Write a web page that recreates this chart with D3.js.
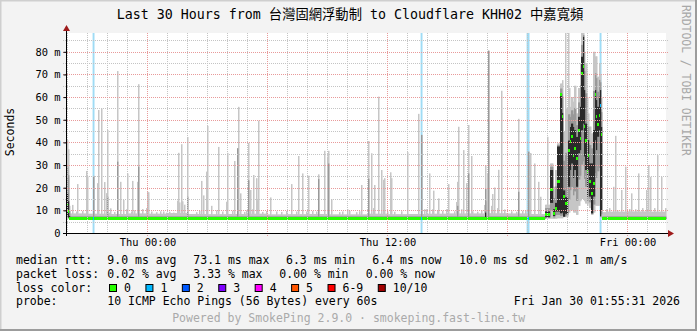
<!DOCTYPE html>
<html>
<head>
<meta charset="utf-8">
<title>SmokePing - Last 30 Hours</title>
<script src="https://cdn.jsdelivr.net/npm/d3@7"></script>
<style>
  body { margin: 0; background: #fff; }
  svg text { font-family: "DejaVu Sans Mono", "Noto Sans CJK TC", monospace; }
</style>
</head>
<body>
<svg width="697" height="331"></svg>
<script>
// ---------------- data ----------------
var titleText = "Last 30 Hours from 台灣固網浮動制 to Cloudflare KHH02 中嘉寬頻";
var rangeStart = new Date(2026, 0, 28, 19, 55, 31);
var rangeEnd = new Date(2026, 0, 30, 1, 55, 31);
var thu0 = new Date(2026, 0, 29, 0, 0, 0);   // times below are hours after Thu 00:00
var stepMinutes = 3;

// per hour baseline (hours -5 .. 25 after Thu 00:00)
var baseHours  = [-5,-4,-3,-2,-1,0,1,2,3,4,5,6,7,8,9,10,11,12,13,14,15,16,17,18,19,20,21,22,23,24,25];
var baseMedian = [6.6,6.5,6.5,6.5,6.5,6.5,6.4,6.4,6.4,6.4,6.4,6.4,6.4,6.4,6.4,6.4,6.4,6.5,6.5,6.4,6.4,6.4,6.4,6.4,6.3,6.3,6.5,6.5,6.5,6.5,6.5];
var baseTop    = [8.5,8.6,8.5,8.4,8.6,8.5,8.8,8.4,8.3,8.4,8.5,8.2,8.3,8.4,8.2,8.2,8.5,8.3,8.4,8.5,8.6,8.6,8.7,8.6,8.4,9.0,9.0,9.2,9.4,9.5,9.4];
var pingFloor = 6.0;

// detailed periods: [from h, to h, min, q1, median, q3, max] (ms)
var detailRows = [
  [-4.08, -4.03, 6.3, 7.0, 11.0, 16.0, 24.0],
  [-4.03, -3.98, 6.3, 8.0, 12.4, 17.5, 41.0],
  [-3.98, -3.93, 6.2, 6.8, 9.5, 14.0, 37.0],
  [-3.93, -3.88, 6.2, 6.4, 6.6, 7.5, 12.0],
  [16.86, 16.93, 6.2, 6.5, 6.6, 9.0, 30.0],
  [19.88, 20.13, 6.3, 7.0, 8.2, 9.5, 12.5],
  [20.13, 20.28, 6.3, 13.3, 19.3, 27.8, 30.7],
  [20.28, 20.40, 6.2, 7.5, 8.7, 10.5, 20.4],
  [20.40, 20.50, 6.3, 9.5, 10.8, 13.3, 27.8],
  [20.50, 20.63, 6.5, 9.5, 22.6, 38.2, 39.6],
  [20.63, 20.73, 6.5, 8.7, 61.0, 61.5, 66.0],
  [20.73, 20.79, 6.5, 9.0, 51.5, 53.0, 67.5],
  [20.79, 20.89, 7.0, 7.2, 16.0, 18.8, 45.0],
  [20.89, 21.03, 7.0, 8.5, 13.0, 15.8, 55.0],
  [21.03, 21.11, 9.0, 20.4, 36.3, 40.8, 64.0],
  [21.11, 21.18, 10.0, 27.8, 40.3, 46.8, 55.7],
  [21.18, 21.26, 10.0, 30.7, 42.5, 48.3, 60.0],
  [21.26, 21.33, 9.0, 24.3, 34.4, 46.8, 58.0],
  [21.33, 21.43, 9.0, 27.8, 37.3, 45.4, 65.0],
  [21.43, 21.53, 8.0, 20.4, 32.9, 42.4, 52.8],
  [21.53, 21.61, 12.0, 35.2, 45.4, 51.3, 64.0],
  [21.61, 21.69, 14.0, 36.6, 41.8, 55.7, 74.9],
  [21.69, 21.76, 15.0, 45.4, 70.2, 77.8, 88.3],
  [21.76, 21.83, 15.0, 48.3, 73.5, 86.6, 88.3],
  [21.83, 21.89, 14.0, 33.8, 46.9, 63.1, 80.0],
  [21.89, 21.96, 13.0, 27.8, 41.0, 48.3, 75.0],
  [21.96, 22.03, 12.0, 16.1, 27.0, 33.8, 60.0],
  [22.03, 22.09, 13.0, 27.8, 34.0, 41.0, 52.8],
  [22.09, 22.19, 11.0, 16.1, 22.6, 30.7, 47.0],
  [22.19, 22.29, 8.0, 8.7, 17.5, 30.7, 44.0],
  [22.29, 22.36, 9.0, 16.1, 22.0, 45.4, 80.0],
  [22.36, 22.43, 12.0, 41.0, 61.0, 63.1, 78.0],
  [22.43, 22.49, 12.0, 36.6, 51.5, 58.7, 78.0],
  [22.49, 22.56, 12.0, 42.5, 47.7, 55.7, 69.0],
  [22.56, 22.63, 12.0, 45.4, 52.0, 60.2, 75.0],
  [22.63, 22.68, 6.8, 7.4, 56.5, 63.1, 70.0],
  [22.68, 22.73, 6.5, 10.0, 43.3, 46.8, 60.0]
];

// tall smoke spikes: [h, max ms, darker part ms]
var spikes = [
  [-3.48,21.6,0],[-3.06,27.4,0],[-2.98,25,0],[-2.71,25.2,25.2],[-2.51,22,0],[-2.46,54.3,0],
  [-2.31,55,0],[-2.16,22.5,0],[-2.06,17.6,0],[-1.98,45.5,16],[-1.83,10.9,0],[-1.48,71.5,31.5],
  [-1.33,22.6,0],[-1.18,14.6,0],[-0.98,26.3,0],[-0.76,23,0],[-0.51,22.6,0],[-0.46,65.7,29.3],
  [-0.01,18.2,0],[0.06,18,0],[0.66,9.6,0],[1.54,35.4,0],[1.69,39.2,0],[1.99,42.4,16],
  [2.69,23,0],[2.81,16.6,0],[2.93,27.1,0],[3.01,47.3,0],[3.54,38,0],[4.01,35.4,0],
  [4.34,31.8,0],[4.48,37.4,37.4],[4.54,55.7,0],[4.64,17.5,0],[5.03,39.8,23.3],[5.14,19,0],
  [5.31,25.6,0],[5.44,24.2,0],[5.54,49.6,0],[6.14,15.7,0],[7.21,21.6,0],[7.54,34,0],
  [7.74,26.3,0],[8.03,25.3,0],[8.54,25.9,23.8],[8.84,36.3,0],[8.98,33.8,0],[9.04,36.3,30.7],
  [9.19,14.9,0],[10.69,21.2,0],[11.03,40.6,24],[11.18,35.2,0],[11.34,21.2,0],[11.54,60.2,0],
  [11.69,27.8,0],[11.81,23.5,0],[11.86,24.2,0],[12.16,26.8,0],[12.21,24.2,0],[12.99,35.7,0],
  [13.54,52.6,0],[13.69,43.3,43.3],[14.09,26.3,0],[14.31,18.7,0],[14.56,15.3,0],[15.04,21.6,0],
  [15.49,22.6,12],[15.54,46.9,0],[15.79,36.6,0],[15.93,22,0],[16.03,47.7,26.3],[16.18,34,0],
  [16.91,27.1,0],[16.98,26.5,0],[17.03,80.5,80.5],
  [17.24,17.2,0],[17.34,20.1,0],[17.54,27.9,0],[17.69,62.8,0],[18.53,50.4,18.2],[19.03,35.9,35.9],
  [19.14,35.3,0],[19.34,30.7,0],[19.54,22.6,0],[19.64,16,0],[20.01,42.5,0],[20.9,88.3,0],
  [21.05,88.3,0],[23.38,42.9,0],[23.88,29.3,0],[24.54,26.3,0],[25.04,30,0],[25.49,34.4,0]
];

// small smoke bumps: [h, max ms]
var bumps = [
  [-3.73,12.4],[-3.56,9.5],[-3.23,9.7],[-1.89,9],[-1.64,9.3],[-1.06,10.5],[-0.81,9.5],[-0.64,10],
  [-0.23,10.6],[-0.06,11],[0.19,9.5],[0.44,9.2],[0.78,9.5],[0.94,9],[1.11,9.4],[1.28,9],
  [1.49,14.3],[1.59,13.5],[1.74,14],[1.86,12.5],[2.44,9.2],[2.61,9.8],[3.19,12],[3.44,10],
  [3.76,9.5],[3.93,10],[3.96,13.8],[4.26,9.8],[4.84,9.3],[4.93,10],[5.26,10.5],[5.49,14.5],
  [5.76,9.3],[5.93,9.7],[6.43,9.5],[6.68,9.3],[6.93,9.7],[7.18,11.5],[7.43,9.5],[7.93,9.5],
  [8.26,9.7],[8.43,9.5],[9.59,9.2],[9.76,9.5],[10.01,10.5],[10.09,9.8],[10.43,9.2],[10.59,9.6],
  [11.29,11],[12.01,9.5],[12.34,9.4],[12.68,9.6],[13.01,12],[13.84,10.5],[13.94,10.5],[14.26,10.5],
  [14.51,10],[14.76,9.8],[14.93,10.5],[15.34,9.6],[15.43,13.7],[15.68,10.5],[16.26,9.6],[16.51,9.4],
  [16.68,10],[16.84,12.4],[16.96,14],[17.18,12],[17.51,11],[17.84,10.4],[18.18,9.6],[18.43,9.4],
  [18.76,9.8],[18.88,10],[22.93,10.5],[23.09,11],[23.29,20.4],[23.51,10],[23.68,19],[24.09,10.6],
  [24.21,17.5],[24.38,10.5],[24.76,11],[24.93,19],[25.16,24.8],[25.34,11],[25.71,24.8],[25.88,11]
];

// packet loss events: [h, lost pings of 10]
var lossEvents = [[-2.71, 1], [13.69, 1], [18.98, 1], [19.03, 1], [22.65, 1]];

var lossLabels = ["0", "1", "2", "3", "4", "5", "6-9", "10/10"];
var lossColors = ["#26ff00", "#00b8ff", "#0059ff", "#7e00ff", "#ff00ff", "#ff5500", "#ff0000", "#a10000"];
var rttLegend = ["9.0 ms avg", "73.1 ms max", "6.3 ms min", "6.4 ms now", "10.0 ms sd", "902.1 m am/s"];
var lossLegend = ["0.02 % avg", "3.33 % max", "0.00 % min", "0.00 % now"];
var probeText = "10 ICMP Echo Pings (56 Bytes) every 60s";
var stampText = "Fri Jan 30 01:55:31 2026";
var footerText = "Powered by SmokePing 2.9.0 · smokeping.fast-line.tw";
var yTicks = [0, 10, 20, 30, 40, 50, 60, 70, 80];
var yMax = 88.3;

// ---------------- layout ----------------
var W = 697, H = 331;
var pL = 66, pR = 666, pT = 33, pB = 233;
var svg = d3.select("svg");

var x = d3.scaleTime().domain([rangeStart, rangeEnd]).range([pL, pR]);
var y = d3.scaleLinear().domain([0, yMax]).range([pB, pT]);

var step = stepMinutes * 60000;
function hToDate(h) { return new Date(+thu0 + h * 3600000); }
function binOf(h) { return Math.floor((hToDate(h) - rangeStart) / step); }

// build consolidated bins
var nBins = Math.round((rangeEnd - rangeStart) / step);
var bins = d3.range(nBins).map(function(i) {
  var t0 = new Date(+rangeStart + i * step);
  var hc = (+t0 + step / 2 - thu0) / 3600000;
  var k = baseHours.indexOf(Math.floor(hc));
  var b = { t0: t0, t1: new Date(+t0 + step), min: pingFloor, lo2: 6.1, q1: 6.2,
            med: baseMedian[k], q3: 6.9, hi2: 7.3, max: baseTop[k], loss: 0 };
  detailRows.forEach(function(r) {
    if (hc >= r[0] && hc < r[1]) {
      b.min = r[2]; b.q1 = r[3]; b.med = r[4]; b.q3 = r[5]; b.max = r[6];
      b.lo2 = (r[2] + r[3]) / 2; b.hi2 = (r[5] + r[6]) / 2;
    }
  });
  return b;
});
spikes.forEach(function(s) {
  var b = bins[binOf(s[0])];
  if (!b) return;
  b.max = Math.max(b.max, s[1]);
  if (s[2]) b.hi2 = Math.max(b.hi2, s[2]);
});
bumps.forEach(function(s) {
  var b = bins[binOf(s[0])];
  if (b) b.max = Math.max(b.max, s[1]);
});
lossEvents.forEach(function(l) {
  var b = bins[binOf(l[0])];
  if (b) b.loss = l[1];
});

// ---------------- frame ----------------
svg.append("rect").attr("width", W).attr("height", H).attr("fill", "#f3f3f3");
svg.append("path").attr("d", "M0,0H697M0,0V331").attr("stroke", "#cfcfcf").attr("stroke-width", 3).attr("fill", "none");
svg.append("path").attr("d", "M0,331H697M697,0V331").attr("stroke", "#9c9c9c").attr("stroke-width", 4).attr("fill", "none");
svg.append("rect").attr("x", pL).attr("y", pT).attr("width", pR - pL).attr("height", pB - pT).attr("fill", "#fff");

// loss stripes (behind smoke)
svg.append("g").selectAll("rect").data(bins.filter(function(d) { return d.loss > 0; }))
  .enter().append("rect")
  .attr("x", function(d) { return x(d.t0) - 0.4; })
  .attr("width", function(d) { return x(d.t1) - x(d.t0) + 0.9; })
  .attr("y", pT).attr("height", pB - pT)
  .attr("fill", "#9fdcf5");

// smoke layers (slightly wider than one bin, like the antialiased rrd areas)
function layer(lo, hi, color, extra) {
  svg.append("g").selectAll("rect").data(bins)
    .enter().append("rect")
    .attr("x", function(d) { return x(d.t0); })
    .attr("width", function(d) { return x(d.t1) - x(d.t0) + extra; })
    .attr("y", function(d) { return y(hi(d)); })
    .attr("height", function(d) { return Math.max(0, y(lo(d)) - y(hi(d))); })
    .attr("fill", color);
}
layer(function(d) { return d.min; }, function(d) { return d.max; }, "#c6c6c6", 0.5);
layer(function(d) { return d.lo2; }, function(d) { return d.hi2; }, "#999999", 0.4);
layer(function(d) { return d.q1; }, function(d) { return d.q3; }, "#2a2a2a", 0.2);

// median, coloured by loss
svg.append("g").attr("shape-rendering", "crispEdges").selectAll("rect").data(bins)
  .enter().append("rect")
  .attr("x", function(d) { return x(d.t0); })
  .attr("width", function(d) { return x(d.t1) - x(d.t0); })
  .attr("y", function(d) { return y(d.med) - 1.5; })
  .attr("height", 3)
  .attr("fill", function(d) { return lossColors[d.loss]; });

// ---------------- grid ----------------
var grid = svg.append("g").attr("shape-rendering", "crispEdges").attr("stroke-dasharray", "1,1");
var minorV = d3.timeHour.every(1).range(rangeStart, rangeEnd);
var majorV = d3.timeHour.every(6).range(rangeStart, rangeEnd);
grid.selectAll(".mv").data(minorV.filter(function(t) { return t.getHours() % 6 !== 0; }))
  .enter().append("line")
  .attr("x1", function(t) { return Math.round(x(t)) + 0.5; })
  .attr("x2", function(t) { return Math.round(x(t)) + 0.5; })
  .attr("y1", pT).attr("y2", pB + 2)
  .attr("stroke", "#c4c4c4");
grid.selectAll(".mh").data([5, 15, 25, 35, 45, 55, 65, 75, 85])
  .enter().append("line")
  .attr("x1", pL - 3).attr("x2", pR + 3)
  .attr("y1", function(v) { return Math.round(y(v)) + 0.5; })
  .attr("y2", function(v) { return Math.round(y(v)) + 0.5; })
  .attr("stroke", "#c4c4c4");
grid.selectAll(".jv").data(majorV)
  .enter().append("line")
  .attr("x1", function(t) { return Math.round(x(t)) + 0.5; })
  .attr("x2", function(t) { return Math.round(x(t)) + 0.5; })
  .attr("y1", pT).attr("y2", pB + 3)
  .attr("stroke", "#e89a9a");
grid.selectAll(".jh").data(yTicks.slice(1))
  .enter().append("line")
  .attr("x1", pL - 3).attr("x2", pR + 3)
  .attr("y1", function(v) { return Math.round(y(v)) + 0.5; })
  .attr("y2", function(v) { return Math.round(y(v)) + 0.5; })
  .attr("stroke", "#e89a9a");

// ---------------- axes ----------------
var yAxis = d3.axisLeft(y).tickValues(yTicks).tickSize(3).tickPadding(3)
  .tickFormat(function(v) { return v === 0 ? "0" : v + " m"; });
var gy = svg.append("g").attr("transform", "translate(" + (pL + 0.5) + ",0)").call(yAxis);
gy.select(".domain").remove();
gy.selectAll("line").attr("stroke", "#000");
gy.selectAll("text").attr("font-family", "DejaVu Sans Mono").attr("font-size", "10.4px").attr("fill", "#000");

var xAxis = d3.axisBottom(x).ticks(d3.timeHour.every(12)).tickSize(0).tickPadding(5.5)
  .tickFormat(d3.timeFormat("%a %H:%M"));
var gx = svg.append("g").attr("transform", "translate(0," + pB + ")").call(xAxis);
gx.select(".domain").remove();
gx.selectAll("text").attr("font-family", "DejaVu Sans Mono").attr("font-size", "10.4px").attr("fill", "#000");

svg.append("line").attr("x1", pL - 3).attr("x2", pR + 3).attr("y1", pB + 0.5).attr("y2", pB + 0.5)
  .attr("stroke", "#000");
svg.append("line").attr("x1", pL + 0.5).attr("x2", pL + 0.5).attr("y1", pT - 3).attr("y2", pB + 3)
  .attr("stroke", "#000");
svg.append("path").attr("d", "M" + (pR + 8) + "," + (pB + 0.5) + "l-6,-3.5v7z").attr("fill", "#9e1b1b");
svg.append("path").attr("d", "M" + (pL + 0.5) + "," + (pT - 8) + "l-3.5,6h7z").attr("fill", "#9e1b1b");

// ---------------- texts ----------------
svg.append("text").attr("x", 350).attr("y", 19).attr("text-anchor", "middle")
  .attr("font-size", "13.3px").text(titleText);

svg.append("text").attr("transform", "translate(14.3,132) rotate(-90)").attr("text-anchor", "middle")
  .attr("font-size", "11.5px").text("Seconds");

svg.append("text").attr("transform", "translate(682,5) rotate(90)").attr("font-size", "11.4px")
  .attr("fill", "#a8a8a8").text("RRDTOOL / TOBI OETIKER");

var legend = svg.append("g").attr("font-size", "11.5px").attr("fill", "#000").style("white-space", "pre");
var rowY = [263.5, 277.5, 291.5, 305];
legend.append("text").attr("x", 16).attr("y", rowY[0]).text("median rtt:");
legend.append("text").attr("x", 16).attr("y", rowY[1]).text("packet loss:");
legend.append("text").attr("x", 16).attr("y", rowY[2]).text("loss color:");
legend.append("text").attr("x", 16).attr("y", rowY[3]).text("probe:");

var rttX = [107.3, 193.3, 286, 372.3, 459, 544.3];
legend.selectAll(".rtt").data(rttLegend).enter().append("text")
  .attr("x", function(d, i) { return rttX[i]; }).attr("y", rowY[0]).text(function(d) { return d; });
var lossX = [107.3, 193.3, 279.3, 365.7];
legend.selectAll(".pl").data(lossLegend).enter().append("text")
  .attr("x", function(d, i) { return lossX[i]; }).attr("y", rowY[1]).text(function(d) { return d; });

var charW = 6.92;
var sx = 109.5;
lossLabels.forEach(function(lab, i) {
  legend.append("rect").attr("x", sx).attr("y", 284.5).attr("width", 7).attr("height", 7)
    .attr("fill", lossColors[i]).attr("stroke", "#000").attr("stroke-width", 1);
  legend.append("text").attr("x", sx + 14.5).attr("y", rowY[2]).text(lab);
  sx += 14.5 + lab.length * charW + 15;
});

legend.append("text").attr("x", 107.3).attr("y", rowY[3]).text(probeText);
legend.append("text").attr("x", 680).attr("y", rowY[3]).attr("text-anchor", "end").text(stampText);

svg.append("text").attr("x", 348.7).attr("y", 321.5).attr("text-anchor", "middle")
  .attr("font-size", "11.5px").attr("fill", "#aaaaaa").text(footerText);
</script>
</body>
</html>
